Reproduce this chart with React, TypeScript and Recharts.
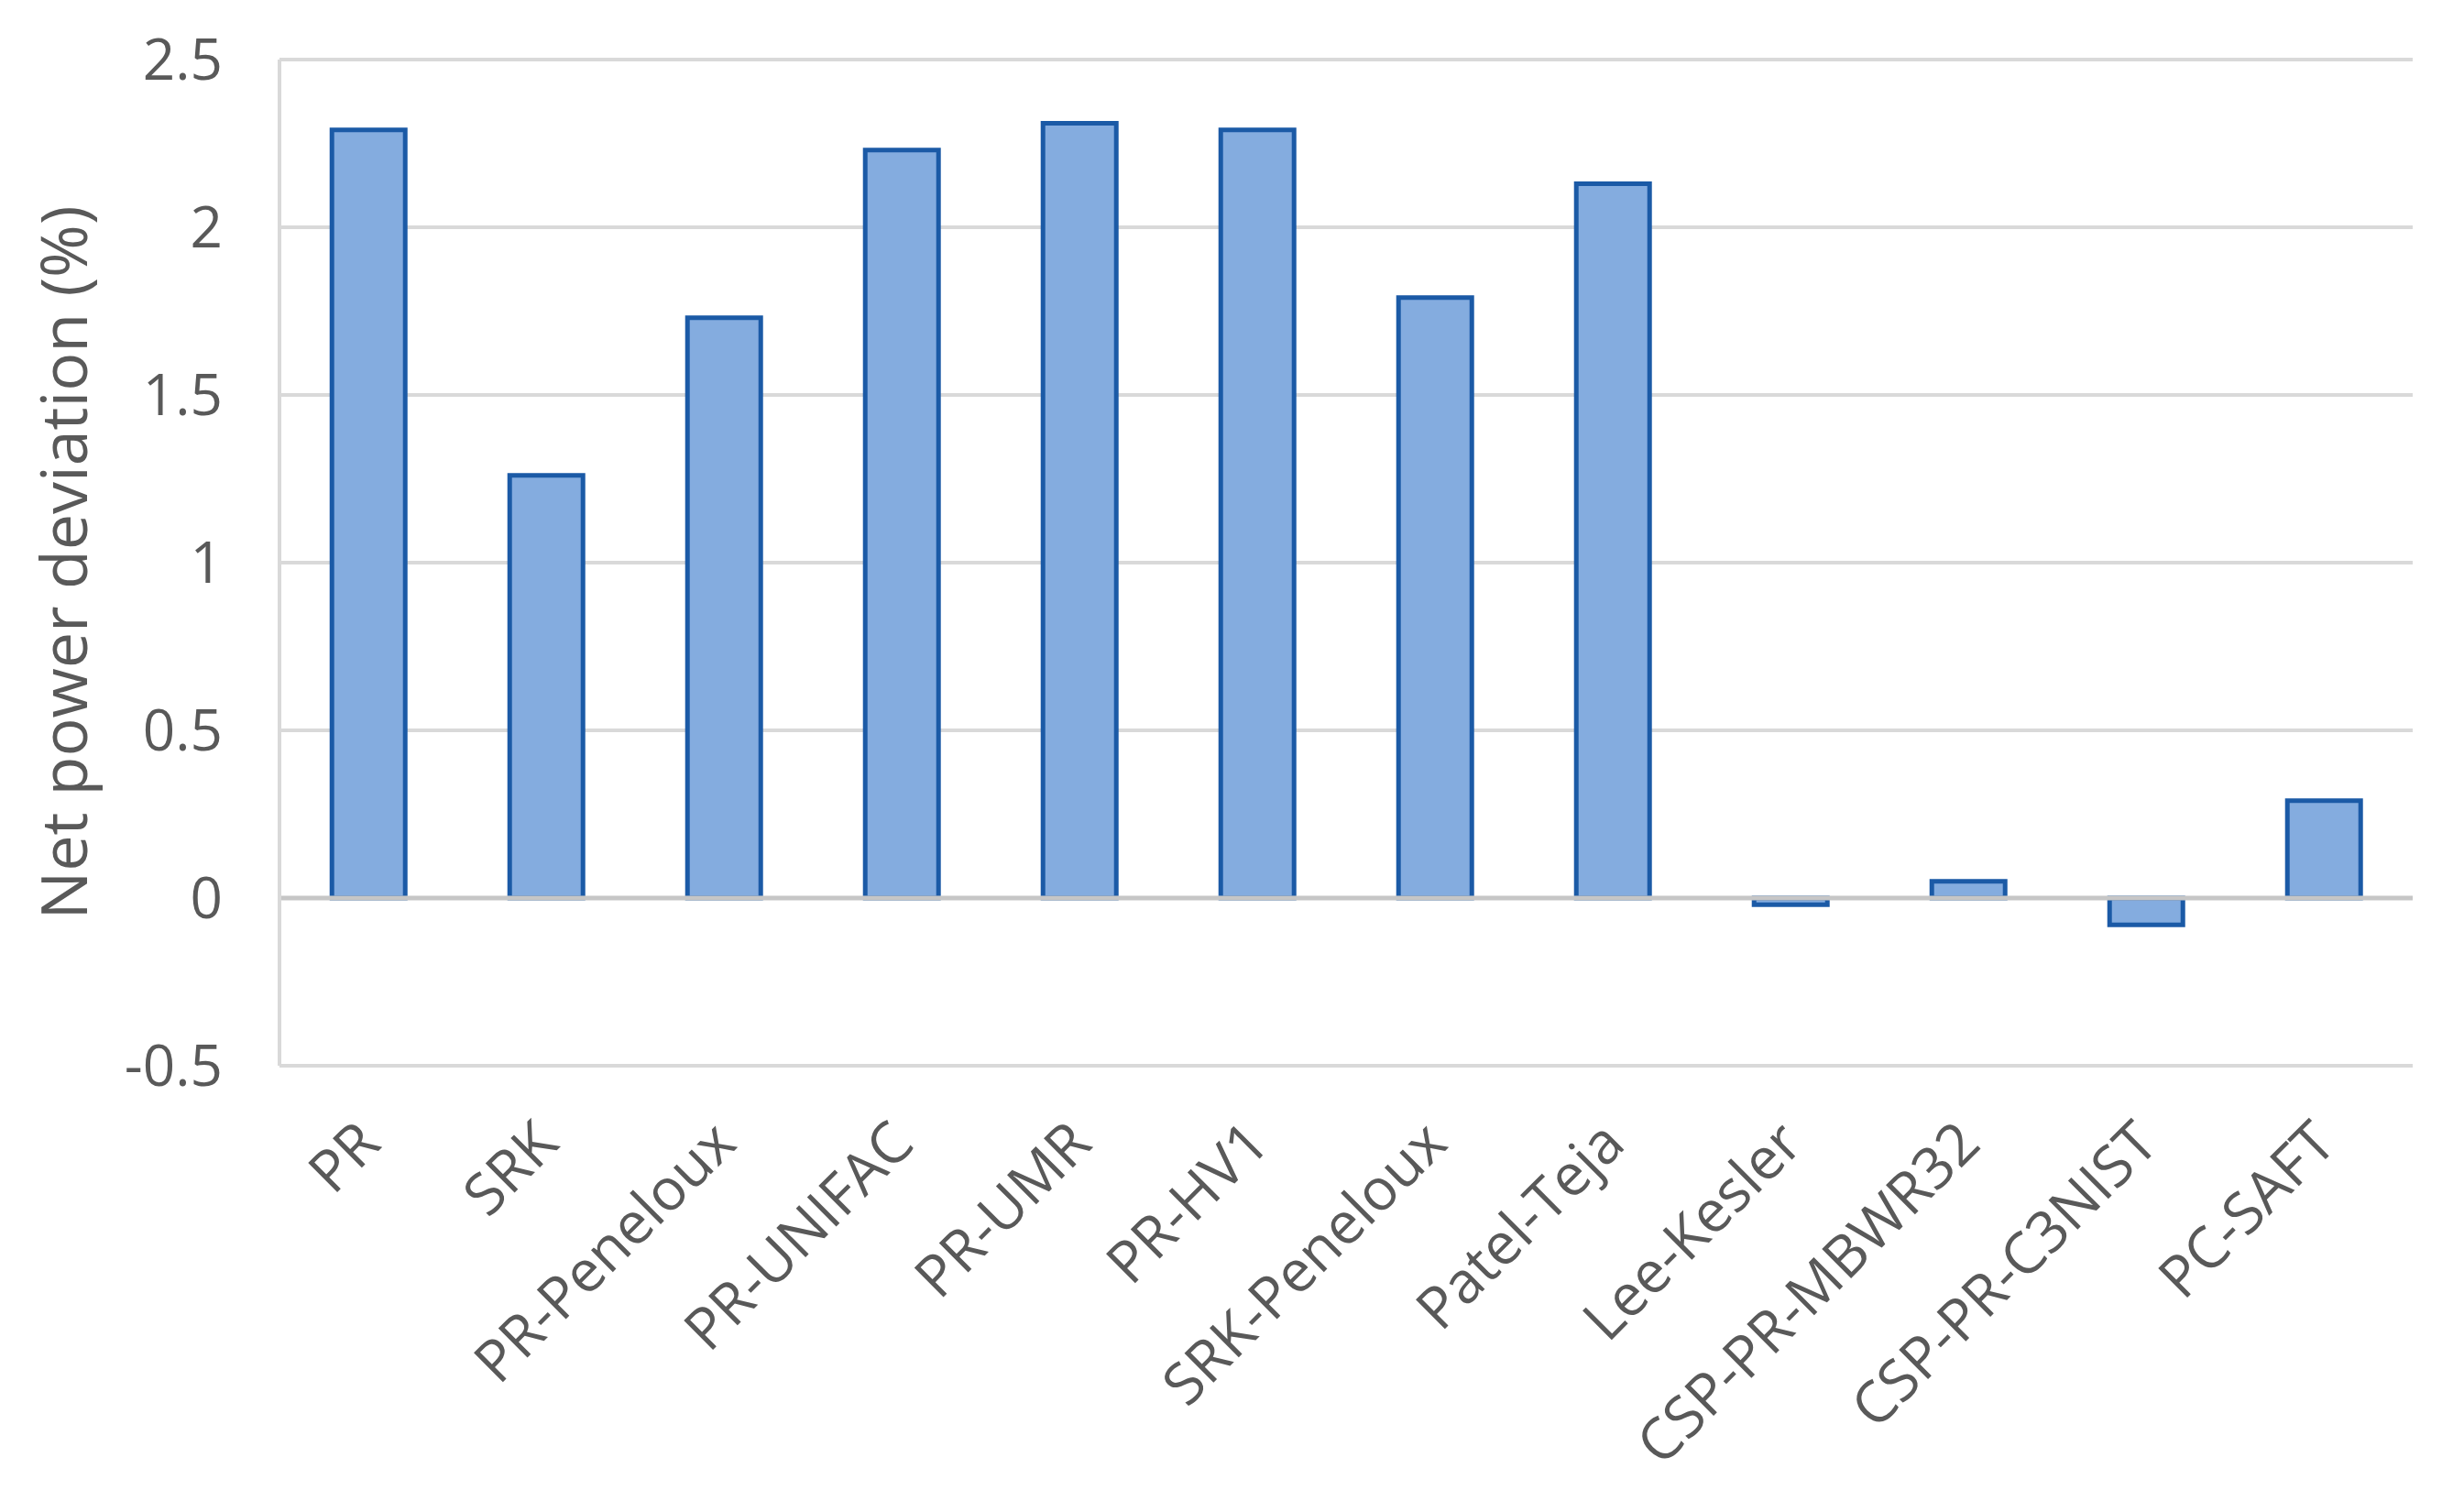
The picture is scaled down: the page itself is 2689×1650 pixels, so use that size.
import React from 'react';
import { Bar, BarChart, CartesianGrid, Label, ReferenceLine, XAxis, YAxis } from 'recharts';

const models = [
  'PR',
  'SRK',
  'PR-Peneloux',
  'PR-UNIFAC',
  'PR-UMR',
  'PR-HV1',
  'SRK-Peneloux',
  'Patel-Teja',
  'Lee-Kesler',
  'CSP-PR-MBWR32',
  'CSP-PR-C3NIST',
  'PC-SAFT',
];
const deviation = [2.29, 1.26, 1.73, 2.23, 2.31, 2.29, 1.79, 2.13, -0.02, 0.05, -0.08, 0.29];
const yTicks = [-0.5, 0, 0.5, 1, 1.5, 2, 2.5];

const data = models.map((name, i) => ({ name, value: deviation[i] }));

const FONT = '"Open Sans", sans-serif';
const TEXT = '#595959';

const AngledTick = (props: any) => {
  const { x, y, payload } = props;
  return (
    <g transform={`translate(${x + 16},${y + 86})`}>
      <text textAnchor="end" transform="rotate(-45)" fill={TEXT} fontSize={63} fontFamily={FONT}>
        {payload.value}
      </text>
    </g>
  );
};

const YTitle = (props: any) => {
  const vb = props.viewBox;
  const cx = vb.x + 68;
  const cy = vb.y + vb.height / 2;
  return (
    <text
      x={cx}
      y={cy}
      transform={`rotate(-90, ${cx}, ${cy})`}
      textAnchor="middle"
      dominantBaseline="central"
      fill={TEXT}
      fontSize={70}
      fontFamily={FONT}
    >
      Net power deviation (%)
    </text>
  );
};

const App: React.FC = () => {
  return (
    <div style={{ position: 'absolute', left: 0, top: 0, background: '#fff' }}>
      <BarChart
        width={2689}
        height={1650}
        data={data}
        margin={{ top: 65, right: 56, bottom: 0, left: 0 }}
        barCategoryGap="29.5%"
      >
        <CartesianGrid vertical={false} stroke="#D9D9D9" strokeWidth={4} />
        <XAxis
          dataKey="name"
          height={487}
          axisLine={false}
          tickLine={false}
          tickSize={0}
          interval={0}
          tick={<AngledTick />}
        />
        <YAxis
          width={305}
          domain={[-0.5, 2.5]}
          ticks={yTicks}
          allowDataOverflow
          axisLine={{ stroke: '#D9D9D9', strokeWidth: 4 }}
          tickLine={false}
          tickSize={0}
          tickMargin={62}
          tick={{ fill: TEXT, fontSize: 62, fontFamily: FONT }}
        >
          <Label content={<YTitle />} />
        </YAxis>
        <Bar dataKey="value" fill="#84ACDF" stroke="#1B5AA6" strokeWidth={5} isAnimationActive={false} />
        <ReferenceLine y={0} stroke="#C6C6C6" strokeWidth={5} />
      </BarChart>
    </div>
  );
};

export default App;
